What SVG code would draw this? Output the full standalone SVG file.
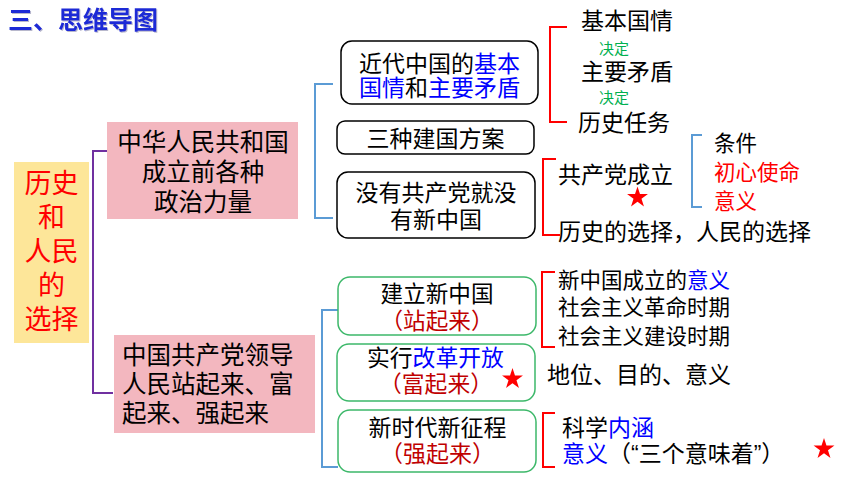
<svg xmlns="http://www.w3.org/2000/svg" width="860" height="484" viewBox="0 0 860 484">
<style>
text{font-family:"Liberation Sans","Noto Sans CJK SC",sans-serif;fill:#000}
.c{text-anchor:middle}
.b{fill:#0000FF}
.r{fill:#FF0000}
.dr{fill:#C00000}
.g{fill:#00B050}
.box{fill:#fff;stroke:#000;stroke-width:1.5}
.gbox{fill:#fff;stroke:#3DB86A;stroke-width:1.5}
.pink{fill:#F3B7BF}
.yel{fill:#FDE699}
.br{fill:none;stroke-width:2}
</style>
<defs>
<polygon id="star" points="0,-11 2.47,-3.4 10.46,-3.4 3.99,1.3 6.47,8.9 0,4.2 -6.47,8.9 -3.99,1.3 -10.46,-3.4 -2.47,-3.4" fill="#FF0000"/>
<filter id="sh" x="-5%" y="-20%" width="110%" height="140%">
<feDropShadow dx="1" dy="1" stdDeviation="0.6" flood-color="#8888AA" flood-opacity="0.6"/>
</filter>
</defs>
<rect width="860" height="484" fill="#fff"/>
<g id="title">
<text x="8" y="29" font-size="25" font-weight="bold" filter="url(#sh)" style="fill:#1F2BD6">三、思维导图</text>
</g>
<g id="connectors">
<path class="br" stroke="#7030A0" stroke-width="2.5" d="M113,151 H93 V393 H113"/>
<path class="br" stroke="#5B9BD5" d="M333,84 H315 V218 H333"/>
<path class="br" stroke="#5B9BD5" d="M338,310 H322 V467 H338"/>
<path class="br" stroke="#FF0000" d="M567,27 H550 V122 H567"/>
<path class="br" stroke="#5B9BD5" d="M702,135 H692 V207 H702"/>
<path class="br" stroke="#FF0000" d="M556,159 H543 V235 H560"/>
<path class="br" stroke="#FF0000" d="M555,272 H542 V347 H555"/>
<path class="br" stroke="#FF0000" d="M555,413 H543 V467 H555"/>
</g>
<g id="root">
<rect class="yel" x="14" y="162" width="75" height="181"/>
<text class="c r" x="51.5" y="193" font-size="27">历史</text>
<text class="c r" x="51.5" y="227" font-size="27">和</text>
<text class="c r" x="51.5" y="261" font-size="27">人民</text>
<text class="c r" x="51.5" y="295" font-size="27">的</text>
<text class="c r" x="51.5" y="329" font-size="27">选择</text>
</g>
<g id="n-before">
<rect class="pink" x="107" y="122" width="191" height="97"/>
<text class="c" x="203" y="151" font-size="24.5">中华人民共和国</text>
<text class="c" x="203" y="181" font-size="24.5">成立前各种</text>
<text class="c" x="203" y="211" font-size="24.5">政治力量</text>
</g>
<g id="n-cpc">
<rect class="pink" x="114" y="335" width="201" height="98"/>
<text x="122" y="364" font-size="24.5">中国共产党领导</text>
<text x="122" y="393" font-size="24.5">人民站起来、富</text>
<text x="122" y="422" font-size="24.5">起来、强起来</text>
</g>
<g id="n-modern">
<rect class="box" x="341" y="41" width="197" height="63" rx="11"/>
<text x="359" y="72" font-size="23">近代中国的</text>
<text class="b" x="474" y="72" font-size="23">基本</text>
<text class="b" x="359" y="96" font-size="23">国情</text>
<text x="405" y="96" font-size="23">和</text>
<text class="b" x="428" y="96" font-size="23">主要矛盾</text>
</g>
<g id="n-three">
<rect class="box" x="337" y="121" width="197" height="33" rx="8"/>
<text class="c" x="435.5" y="147" font-size="23">三种建国方案</text>
</g>
<g id="n-nocpc">
<rect class="box" x="337" y="172" width="198" height="66" rx="11"/>
<text class="c" x="436" y="201" font-size="23">没有共产党就没</text>
<text class="c" x="436" y="228" font-size="23">有新中国</text>
</g>
<g id="n-task">
<text x="581" y="29" font-size="23">基本国情</text>
<text class="g" x="599" y="54" font-size="15">决定</text>
<text x="581" y="80" font-size="23">主要矛盾</text>
<text class="g" x="599" y="103" font-size="15">决定</text>
<text x="578" y="131" font-size="23">历史任务</text>
</g>
<g id="n-found">
<text x="558" y="183" font-size="23">共产党成立</text>
<use href="#star" x="637.5" y="197.5"/>
<text x="714" y="151" font-size="21.5">条件</text>
<text class="r" x="714" y="180" font-size="21.5">初心使命</text>
<text class="r" x="714" y="209" font-size="21.5">意义</text>
<text x="558" y="240" font-size="23">历史的选择，人民的选择</text>
</g>
<g id="n-stand">
<rect class="gbox" x="338" y="277" width="198" height="58" rx="12"/>
<text class="c" x="437" y="302" font-size="22.6">建立新中国</text>
<text class="c dr" x="437" y="329" font-size="22.6">（站起来）</text>
</g>
<g id="n-rich">
<rect class="gbox" x="337" y="344" width="198" height="57" rx="12"/>
<text x="367" y="366" font-size="22.8">实行</text>
<text class="b" x="412.6" y="366" font-size="22.8">改革开放</text>
<text class="c dr" x="436" y="392" font-size="22.8">（富起来）</text>
<use href="#star" x="512.5" y="379"/>
</g>
<g id="n-strong">
<rect class="gbox" x="338" y="410" width="198" height="62" rx="12"/>
<text class="c" x="437.5" y="436" font-size="23">新时代新征程</text>
<text class="c dr" x="437.5" y="462" font-size="23">（强起来）</text>
</g>
<g id="n-stand-detail">
<text x="558" y="288" font-size="21.5">新中国成立的</text>
<text class="b" x="687" y="288" font-size="21.5">意义</text>
<text x="558" y="315" font-size="21.5">社会主义革命时期</text>
<text x="558" y="344" font-size="21.5">社会主义建设时期</text>
</g>
<g id="n-rich-detail">
<text x="547" y="383" font-size="23">地位、目的、意义</text>
</g>
<g id="n-strong-detail">
<text x="562" y="436" font-size="23">科学</text>
<text class="b" x="608" y="436" font-size="23">内涵</text>
<text class="b" x="562" y="462" font-size="23">意义</text>
<text x="608" y="462" font-size="23">（“三个意味着”）</text>
<use href="#star" x="824" y="449"/>
</g>
</svg>
